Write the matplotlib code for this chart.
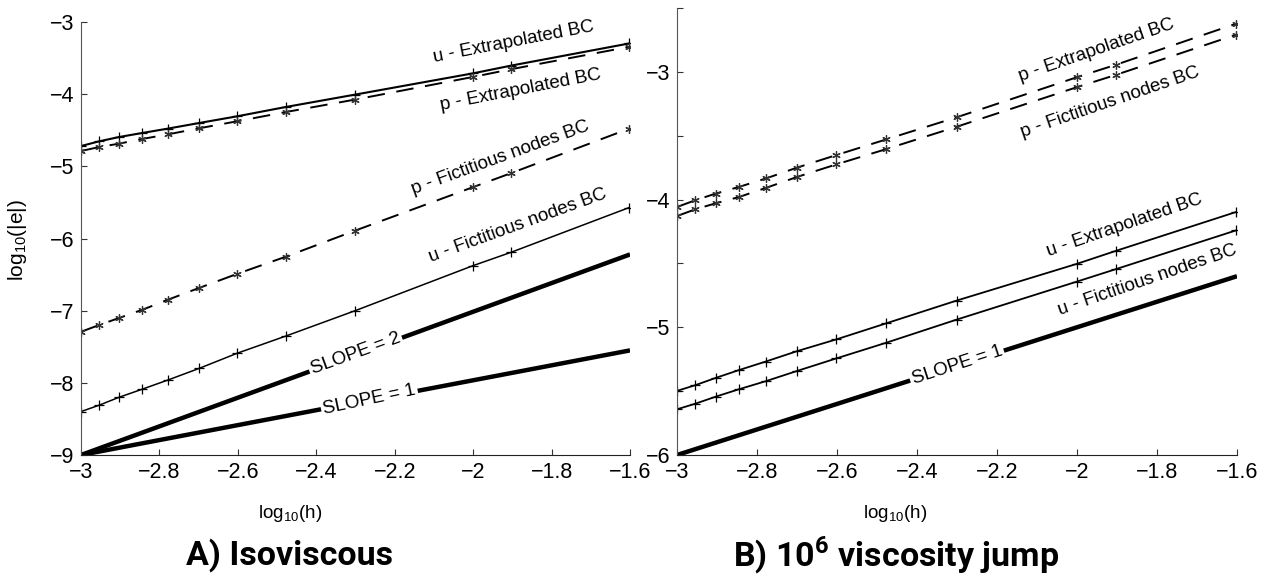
import numpy as np
import matplotlib
matplotlib.use("Agg")
from matplotlib import pyplot as plt
from matplotlib.ticker import FixedLocator

plt.rcParams['font.family'] = ['Liberation Sans', 'DejaVu Sans']
plt.rcParams['mathtext.fontset'] = 'custom'
plt.rcParams['mathtext.rm'] = 'Liberation Sans'
plt.rcParams['mathtext.bf'] = 'Roboto:bold'

# grid spacing h = 1/1000 ... 1/40, as log10(h)
log_h = [-3.0, -2.954, -2.903, -2.845, -2.778, -2.699, -2.602, -2.477, -2.301, -2.0, -1.903, -1.602]

# A) isoviscous errors, log10(|e|)
iso_u_extrap = [-4.718, -4.653, -4.593, -4.538, -4.476, -4.399, -4.306, -4.176, -4.005, -3.71, -3.603, -3.296]
iso_p_extrap = [-4.787, -4.732, -4.685, -4.621, -4.556, -4.472, -4.375, -4.246, -4.074, -3.760, -3.653, -3.343]
iso_p_fict = [-7.292, -7.199, -7.101, -6.990, -6.847, -6.685, -6.49, -6.25, -5.89, -5.287, -5.093, -4.476]
iso_u_fict = [-8.398, -8.31, -8.20, -8.09, -7.96, -7.80, -7.59, -7.35, -7.0, -6.375, -6.19, -5.57]

# B) 10^6 viscosity jump errors
jump_p_extrap = [-4.058, -4.005, -3.953, -3.901, -3.835, -3.749, -3.652, -3.529, -3.356, -3.042, -2.945, -2.623]
jump_p_fict = [-4.129, -4.076, -4.029, -3.98, -3.909, -3.822, -3.725, -3.605, -3.43, -3.12, -3.024, -2.709]
jump_u_extrap = [-5.498, -5.453, -5.396, -5.335, -5.268, -5.186, -5.095, -4.969, -4.791, -4.503, -4.402, -4.097]
jump_u_fict = [-5.642, -5.598, -5.543, -5.485, -5.422, -5.341, -5.244, -5.121, -4.940, -4.642, -4.545, -4.241]

# reference slope lines (end points)
slope_x = [-3.0, -1.6]
iso_slope2 = [-9.0, -6.22]
iso_slope1 = [-9.0, -7.55]
jump_slope1 = [-6.0, -4.6]

xticks = [-3, -2.8, -2.6, -2.4, -2.2, -2, -1.8, -1.6]
xticklabels = ['\u22123', '\u22122.8', '\u22122.6', '\u22122.4', '\u22122.2', '\u22122', '\u22121.8', '\u22121.6']

fig = plt.figure(figsize=(12.7, 5.78), dpi=100)
axA = fig.add_axes([0.0638, 0.2128, 0.4323, 0.749])
axB = fig.add_axes([0.5331, 0.2128, 0.4409, 0.7734])

solid_kw = dict(color='black', marker='+', markersize=7, markeredgewidth=0.9)
# six-armed asterisk markers on dashed lines
dash_kw = dict(color='black', linestyle=(0, (9, 6)), marker=(6, 2, 0), markersize=6,
               markeredgecolor='#333333', markeredgewidth=0.9)
lab_kw = dict(fontsize=13.5, ha='center', va='center', rotation_mode='anchor')
box_kw = dict(fontsize=13.5, ha='center', va='center', rotation_mode='anchor', zorder=5,
              bbox=dict(facecolor='white', edgecolor='none', pad=1.5))

# --- A) isoviscous
axA.plot(log_h, iso_u_extrap, lw=1.5, **solid_kw)
axA.plot(log_h, iso_p_extrap, lw=1.4, **dash_kw)
axA.plot(log_h, iso_p_fict, lw=1.4, **dash_kw)
axA.plot(log_h, iso_u_fict, lw=1.1, **solid_kw)
axA.plot(slope_x, iso_slope2, color='black', lw=3.2, solid_capstyle='butt')
axA.plot(slope_x, iso_slope1, color='black', lw=3.2, solid_capstyle='butt')

axA.text(-1.898, -3.28, 'u - Extrapolated BC', rotation=11, **lab_kw)
axA.text(-1.88, -3.94, 'p - Extrapolated BC', rotation=11, **lab_kw)
axA.text(-1.93, -4.875, 'p - Fictitious nodes BC', rotation=20, **lab_kw)
axA.text(-1.885, -5.82, 'u - Fictitious nodes BC', rotation=20, **lab_kw)
axA.text(-2.30, -7.60, 'SLOPE = 2', rotation=20, **box_kw)
axA.text(-2.265, -8.23, 'SLOPE = 1', rotation=12, **box_kw)

axA.set_xlim(-3, -1.6)
axA.set_ylim(-9, -3)
axA.set_yticks([-9, -8, -7, -6, -5, -4, -3])
axA.set_yticklabels(['\u22129', '\u22128', '\u22127', '\u22126', '\u22125', '\u22124', '\u22123'])

# --- B) viscosity jump
axB.plot(log_h, jump_p_extrap, lw=1.4, **dash_kw)
axB.plot(log_h, jump_p_fict, lw=1.4, **dash_kw)
axB.plot(log_h, jump_u_extrap, lw=1.3, **solid_kw)
axB.plot(log_h, jump_u_fict, lw=1.3, **solid_kw)
axB.plot(slope_x, jump_slope1, color='black', lw=3.2, solid_capstyle='butt')

axB.text(-1.95, -2.83, 'p - Extrapolated BC', rotation=19, **lab_kw)
axB.text(-1.918, -3.24, 'p - Fictitious nodes BC', rotation=19, **lab_kw)
axB.text(-1.88, -4.20, 'u - Extrapolated BC', rotation=19, **lab_kw)
axB.text(-1.825, -4.63, 'u - Fictitious nodes BC', rotation=19, **lab_kw)
axB.text(-2.30, -5.30, 'SLOPE = 1', rotation=18, **box_kw)

axB.set_xlim(-3, -1.6)
axB.set_ylim(-6, -2.5)
axB.yaxis.set_major_locator(FixedLocator([-6, -5, -4, -3]))
axB.yaxis.set_minor_locator(FixedLocator([-5.5, -4.5, -3.5, -2.5]))
axB.set_yticklabels(['\u22126', '\u22125', '\u22124', '\u22123'])

for ax in (axA, axB):
    ax.set_xticks(xticks)
    ax.set_xticklabels(xticklabels)
    ax.spines['top'].set_visible(False)
    ax.spines['right'].set_visible(False)
    ax.spines['left'].set_color('#555555')
    ax.spines['bottom'].set_color('#222222')
    ax.tick_params(which='both', direction='in', length=4, width=0.8,
                   labelsize=15.5, pad=5, colors='#333333', labelcolor='black')

fig.text(0.0134, 0.585, 'log$_{10}$(|e|)', fontsize=15, rotation=90, ha='center', va='center')

fig.text(0.2283, 0.112, 'log$_{10}$(h)', fontsize=13.5, ha='center', va='center')
fig.text(0.7047, 0.112, 'log$_{10}$(h)', fontsize=13.5, ha='center', va='center')
fig.text(0.2283, 0.040, 'A) Isoviscous', fontsize=24.5, fontweight='bold',
         family='Roboto', ha='center', va='center')
fig.text(0.7055, 0.040, r'B) 10$^{\mathbf{6}}$ viscosity jump', fontsize=24.5, fontweight='bold',
         family='Roboto', ha='center', va='center')

fig.savefig('out.png', dpi=100)
